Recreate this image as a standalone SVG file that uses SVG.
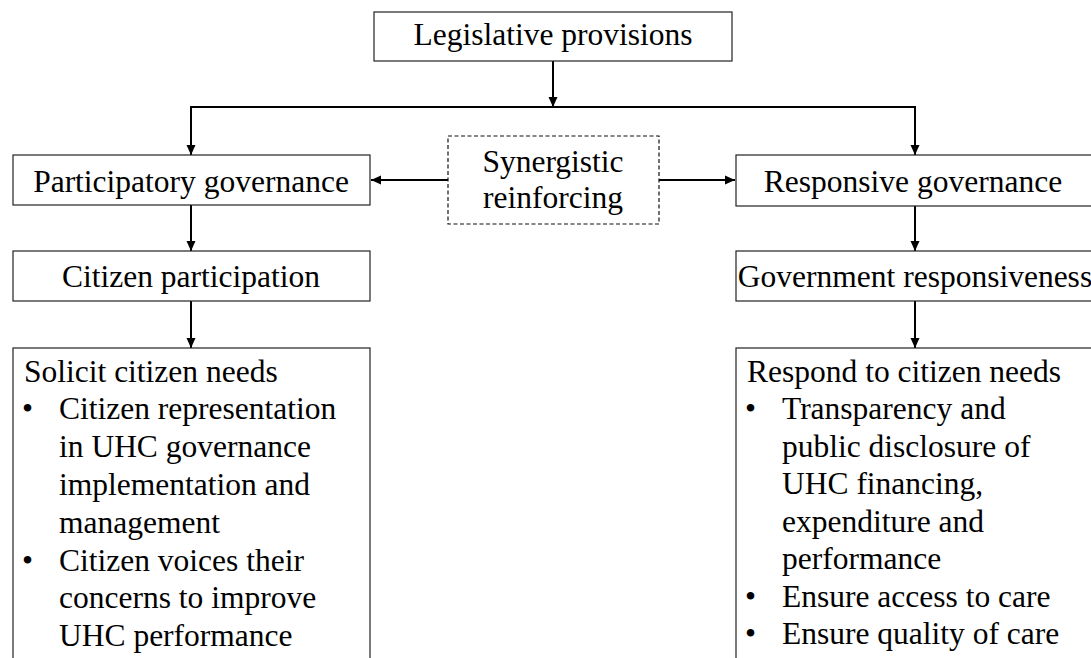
<svg xmlns="http://www.w3.org/2000/svg" width="1091" height="658" viewBox="0 0 1091 658">
<defs>
<style>
.box{fill:#fff;stroke:#222;stroke-width:1.2}
.dash{fill:#fff;stroke:#111;stroke-width:1.2;stroke-dasharray:4 2.5}
.t{font-family:"Liberation Serif","Times New Roman",serif;font-size:31.5px;fill:#000}
.c{text-anchor:middle}
.con{fill:none;stroke:#000;stroke-width:2}
</style>
<marker id="ah" markerUnits="userSpaceOnUse" markerWidth="10" markerHeight="10" refX="10" refY="5" orient="auto">
<path d="M0,0.5 L10,5 L0,9.5 z" fill="#000"/>
</marker>
</defs>
<rect width="1091" height="658" fill="#fff"/>
<g id="connectors">
<line class="con" x1="553" y1="61" x2="553" y2="107" marker-end="url(#ah)"/>
<polyline class="con" points="191,108 191,107 915,107 915,108"/>
<line class="con" x1="191" y1="106" x2="191" y2="155" marker-end="url(#ah)"/>
<line class="con" x1="915" y1="106" x2="915" y2="155" marker-end="url(#ah)"/>
<line class="con" x1="448" y1="180" x2="371" y2="180" marker-end="url(#ah)"/>
<line class="con" x1="659" y1="180" x2="735" y2="180" marker-end="url(#ah)"/>
<line class="con" x1="191" y1="205" x2="191" y2="251" marker-end="url(#ah)"/>
<line class="con" x1="915" y1="206" x2="915" y2="251" marker-end="url(#ah)"/>
<line class="con" x1="191" y1="301" x2="191" y2="348" marker-end="url(#ah)"/>
<line class="con" x1="915" y1="301" x2="915" y2="348" marker-end="url(#ah)"/>
</g>
<g id="legislative">
<rect class="box" x="374" y="12" width="358" height="49"/>
<text class="t c" x="553" y="45">Legislative provisions</text>
</g>
<g id="participatory">
<rect class="box" x="13" y="155" width="357" height="50"/>
<text class="t c" x="191" y="192">Participatory governance</text>
</g>
<g id="synergistic">
<rect class="dash" x="448" y="136" width="211" height="88"/>
<text class="t c" x="553" y="172">Synergistic</text>
<text class="t c" x="553" y="208">reinforcing</text>
</g>
<g id="responsive">
<rect class="box" x="736" y="155" width="380" height="51"/>
<text class="t c" x="913" y="192">Responsive governance</text>
</g>
<g id="citizen">
<rect class="box" x="13" y="251" width="357" height="50"/>
<text class="t c" x="191" y="287">Citizen participation</text>
</g>
<g id="government">
<rect class="box" x="736" y="251" width="380" height="50"/>
<text class="t c" x="915" y="287">Government responsiveness</text>
</g>
<g id="solicit">
<rect class="box" x="13" y="348" width="357" height="340"/>
<text class="t" x="24" y="382">Solicit citizen needs</text>
<text class="t" x="22" y="419">•</text>
<text class="t" x="59" y="419">Citizen representation</text>
<text class="t" x="59" y="457">in UHC governance</text>
<text class="t" x="59" y="495">implementation and</text>
<text class="t" x="59" y="533">management</text>
<text class="t" x="22" y="571">•</text>
<text class="t" x="59" y="571">Citizen voices their</text>
<text class="t" x="59" y="608">concerns to improve</text>
<text class="t" x="59" y="646">UHC performance</text>
</g>
<g id="respond">
<rect class="box" x="736" y="348" width="380" height="340"/>
<text class="t" x="747" y="382">Respond to citizen needs</text>
<text class="t" x="745" y="419">•</text>
<text class="t" x="782" y="419">Transparency and</text>
<text class="t" x="782" y="457">public disclosure of</text>
<text class="t" x="782" y="494">UHC financing,</text>
<text class="t" x="782" y="532">expenditure and</text>
<text class="t" x="782" y="569">performance</text>
<text class="t" x="745" y="607">•</text>
<text class="t" x="782" y="607">Ensure access to care</text>
<text class="t" x="745" y="644">•</text>
<text class="t" x="782" y="644">Ensure quality of care</text>
</g>
</svg>
